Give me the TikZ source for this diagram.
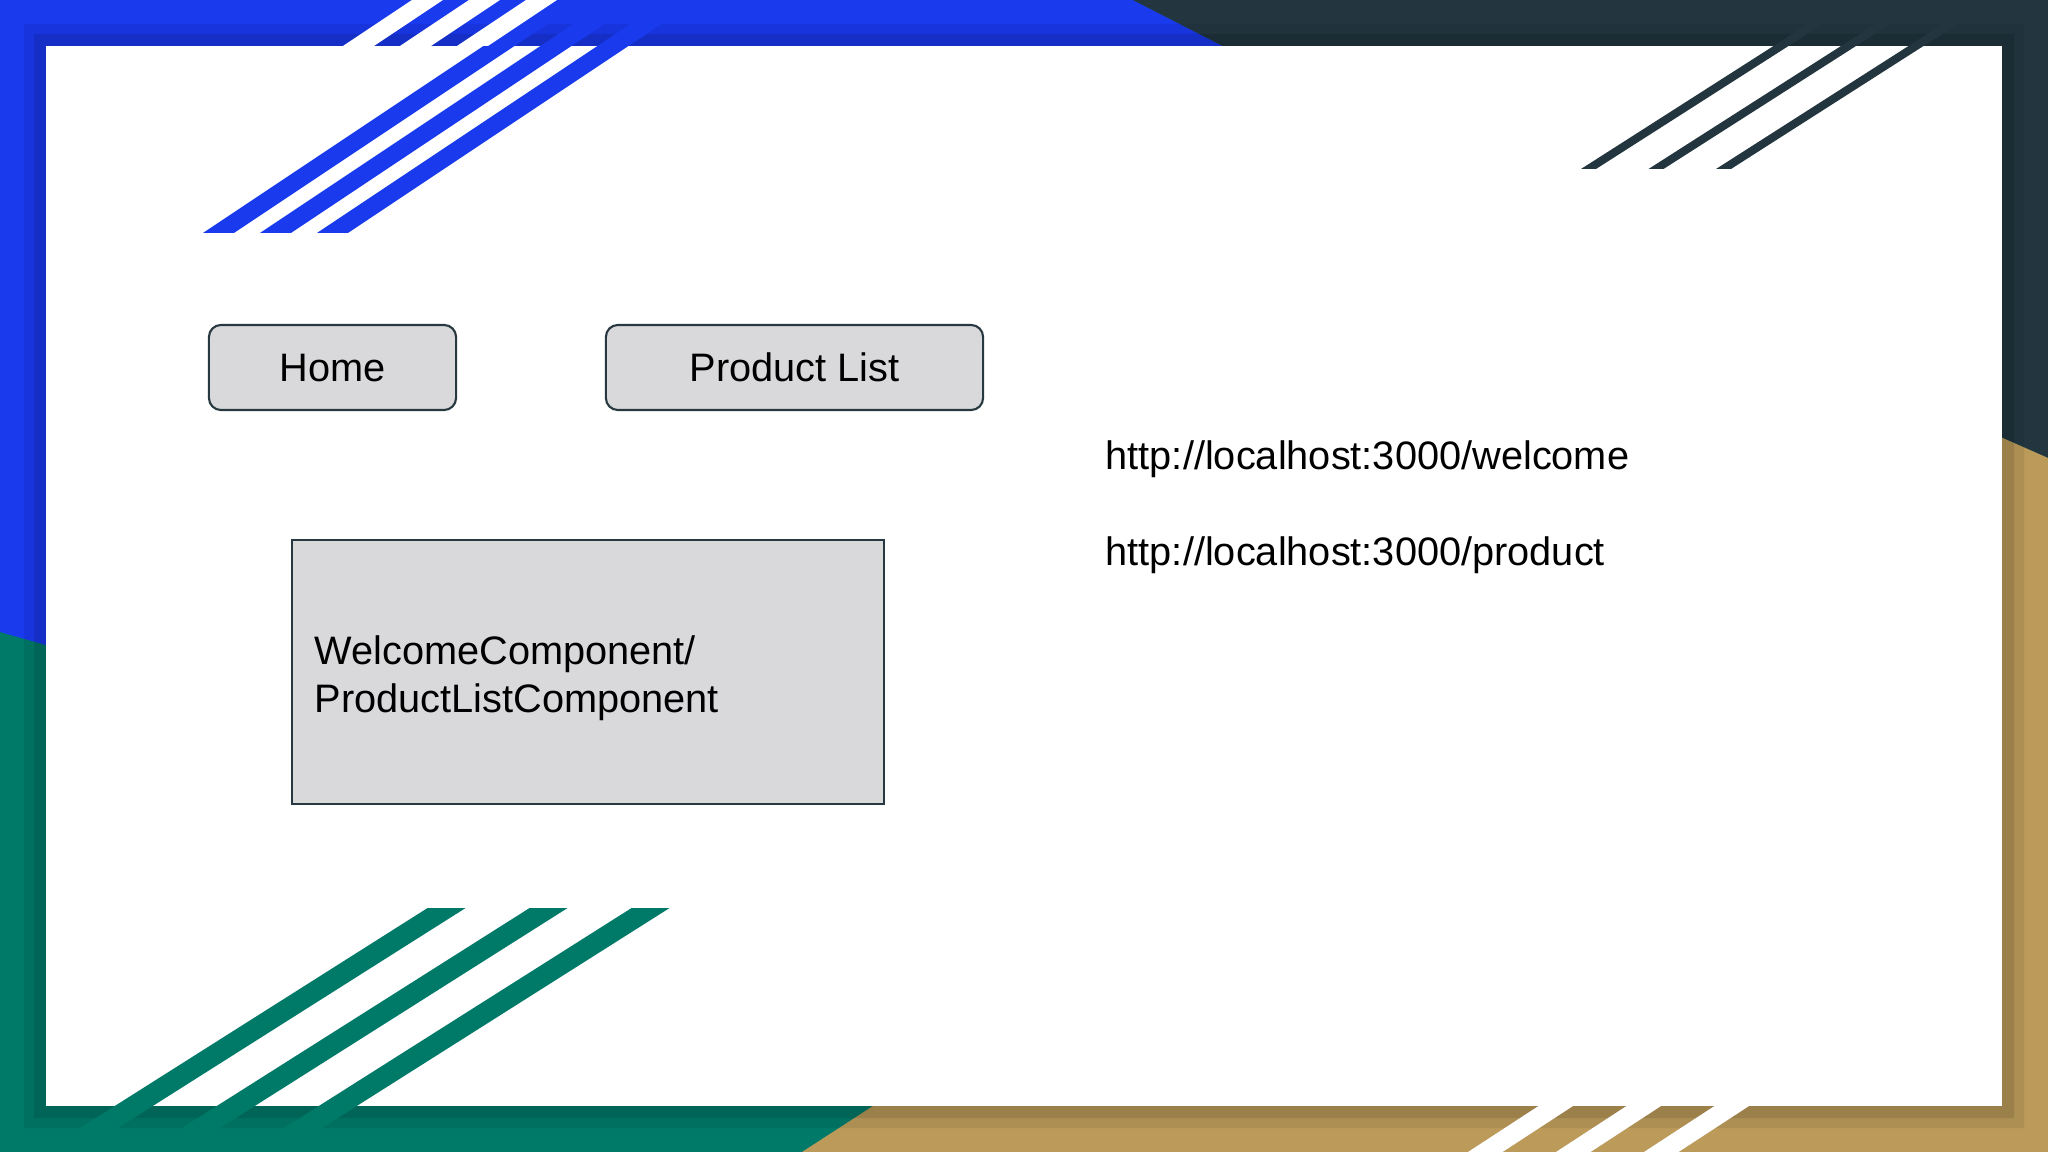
\documentclass[tikz,border=0pt]{standalone}
\usepackage{fontspec}
\setmainfont{Liberation Sans}
\definecolor{fblue}{RGB}{26,58,238}
\definecolor{fdark}{RGB}{35,54,64}
\definecolor{fteal}{RGB}{0,122,104}
\definecolor{fgold}{RGB}{187,154,90}
\definecolor{boxfill}{RGB}{217,217,219}
\definecolor{boxline}{RGB}{40,56,64}
\begin{document}
\begin{tikzpicture}[x=0.01cm,y=-0.01cm,
  btn/.style={draw=boxline, line width=0.6pt, fill=boxfill, rounded corners=0.12cm, inner sep=0pt, text height=0.82em, text depth=0pt, font=\fontsize{11.3}{13.6}\selectfont},
  panel/.style={draw=boxline, line width=0.6pt, fill=boxfill, inner sep=0pt},
  txt/.style={inner sep=0pt, font=\fontsize{11.3}{13.6}\selectfont, text=black}]
\useasboundingbox (0,0) rectangle (2048,1152);
% frame colour regions
\fill[fteal] (0,0) rectangle (2048,1152);
\fill[fblue] (0,0) -- (1133,0) -- (1250,60) -- (60,649) -- (0,632) -- cycle;
\fill[fdark] (1133,0) -- (2048,0) -- (2048,458) -- (1980,428) -- (1250,60) -- cycle;
\fill[fgold] (2048,458) -- (2048,1152) -- (802,1152) -- (890,1095) -- (1980,428) -- cycle;
% inner shadow bands
\fill[black, opacity=0.07, even odd rule] (24,24) rectangle (2024,1128) (46,46) rectangle (2002,1106);
\fill[black, opacity=0.10, even odd rule] (34,34) rectangle (2014,1118) (46,46) rectangle (2002,1106);
% white page
\fill[white] (46,46) rectangle (2002,1106);
% top-left blue stripes
\foreach \i in {0,1,2}
  \fill[fblue] ({203+57*\i},233) -- ++(31,0) -- ++(349.5,-233) -- ++(-31,0) -- cycle;
% white cuts in the top-left frame
\foreach \i in {0,1,2}
  \fill[white] ({343+57*\i},46) -- ++(31,0) -- ++(69,-46) -- ++(-31,0) -- cycle;
% top-right dark stripes
\foreach \i in {0,1,2}
  \fill[fdark] ({1581+67.5*\i},169) -- ++(15,0) -- ++(264.5,-169) -- ++(-15,0) -- cycle;
% bottom-left teal stripes
\foreach \i in {0,1,2}
  \fill[fteal] ({427.6+102*\i},908) -- ++(38,0) -- ++(-385.5,244) -- ++(-38,0) -- cycle;
% white cuts in the bottom-right frame
\foreach \i in {0,1,2}
  \fill[white] ({1538.5+88*\i},1106) -- ++(34.5,0) -- ++(-70.5,46) -- ++(-34.5,0) -- cycle;
% content
\node[btn, minimum width=2.47cm, minimum height=0.85cm] (home) at (332.5,367.5) {Home};
\node[btn, minimum width=3.77cm, minimum height=0.85cm] (plist) at (794.5,367.5) {Product List};
\node[panel, minimum width=5.92cm, minimum height=2.64cm] (comp) at (588,672) {};
\node[txt, anchor=north west, align=left] (comptext) at (314,635) {WelcomeComponent/\\ProductListComponent};
\node[txt, anchor=base west] (url1) at (1105,470) {http://localhost:3000/welcome};
\node[txt, anchor=base west] (url2) at (1105,566) {http://localhost:3000/product};
\end{tikzpicture}
\end{document}
